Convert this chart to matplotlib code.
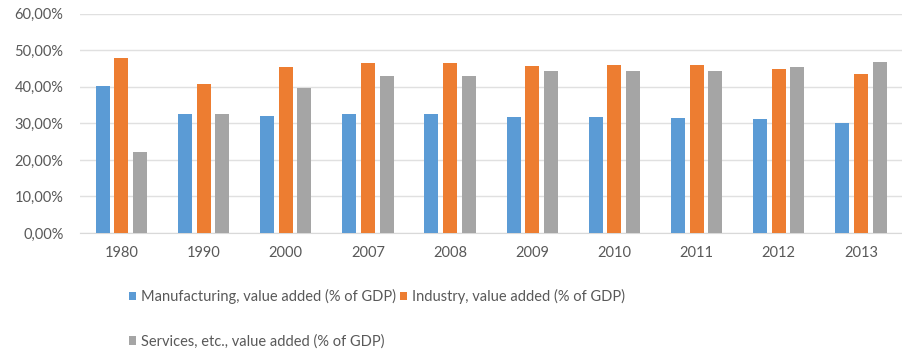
import numpy as np
import matplotlib.pyplot as plt
from matplotlib.ticker import FuncFormatter

years = ['1980', '1990', '2000', '2007', '2008', '2009', '2010', '2011', '2012', '2013']
manufacturing = [40.2, 32.5, 32.0, 32.6, 32.5, 31.8, 31.8, 31.4, 31.1, 30.1]
industry = [47.9, 40.9, 45.4, 46.6, 46.6, 45.6, 46.1, 46.1, 44.9, 43.6]
services = [22.3, 32.5, 39.8, 43.0, 42.9, 44.3, 44.2, 44.2, 45.5, 46.7]

labels = ['Manufacturing, value added (% of GDP)',
          'Industry, value added (% of GDP)',
          'Services, etc., value added (% of GDP)']
colors = ['#5B9BD5', '#ED7D31', '#A5A5A5']
text_color = '#595959'

plt.rcParams['font.family'] = ['Lato', 'DejaVu Sans']


def pct(v, _):
    return f'{v:.2f}%'.replace('.', ',')


def main():
    fig = plt.figure(figsize=(9.02, 3.52), dpi=100)
    ax = fig.add_axes([0.089, 0.338, 0.911, 0.623])

    x = np.arange(len(years))
    width = 0.17
    step = 0.227
    bars = []
    for i, (vals, col) in enumerate(zip([manufacturing, industry, services], colors)):
        b = ax.bar(x + (i - 1) * step, vals, width, color=col, label=labels[i], zorder=3)
        bars.append(b)

    ax.set_ylim(0, 60)
    ax.set_xlim(-0.5, len(years) - 0.5)
    ax.set_yticks(np.arange(0, 61, 10))
    ax.yaxis.set_major_formatter(FuncFormatter(pct))
    ax.set_xticks(x)
    ax.set_xticklabels(years)
    ax.grid(axis='y', color='#e0e0e0', linewidth=1, zorder=0)
    for side in ['top', 'right', 'left']:
        ax.spines[side].set_visible(False)
    ax.spines['bottom'].set_color('#d9d9d9')
    ax.tick_params(axis='both', length=0, labelsize=10.5, colors=text_color)
    ax.tick_params(axis='x', pad=9)
    ax.tick_params(axis='y', pad=12)

    # row-major order: manufacturing and industry on top row, services below
    fig.legend([bars[0], bars[2], bars[1]], [labels[0], labels[2], labels[1]],
               ncol=2, loc='upper left', bbox_to_anchor=(0.143, 0.178),
               frameon=False, fontsize=10.5, labelcolor=text_color,
               handlelength=0.5, handleheight=0.5, handletextpad=0.3,
               columnspacing=0.3, labelspacing=2.05, borderpad=0, borderaxespad=0)

    fig.savefig('out.png', dpi=100)
    plt.close(fig)


if __name__ == '__main__':
    main()
